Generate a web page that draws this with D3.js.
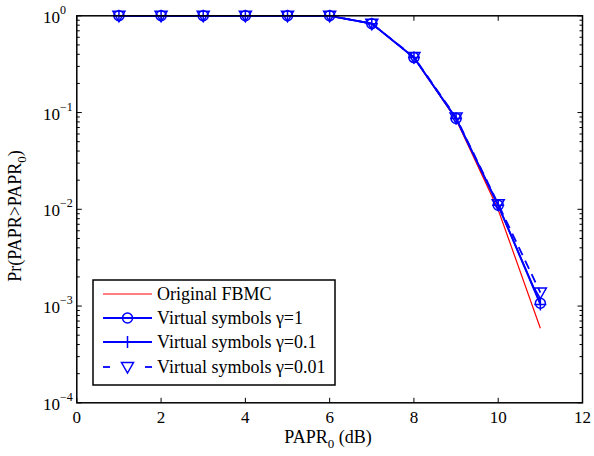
<!DOCTYPE html>
<html><head><meta charset="utf-8">
<script src="https://cdn.jsdelivr.net/npm/d3@7"></script>
<style>body{margin:0;background:#fff}svg{display:block}</style>
</head><body><svg id="c" width="594" height="456"></svg>
<script>
const xs = [1,2,3,4,5,6,7,8,9,10,11];
const original = [1,1,1,1,1,1,0.83,0.37,0.085,0.0099,0.00059];
const gamma1 = [1,1,1,1,1,1,0.83,0.37,0.087,0.0110,0.00107];
const gamma01 = [1,1,1,1,1,1,0.83,0.37,0.087,0.0110,0.00104];
const gamma001 = [1,1,1,1,1,1,0.83,0.375,0.089,0.0113,0.00138];
const xTicks = [0,2,4,6,8,10,12];
const yExps = [0,-1,-2,-3,-4];
const legendLabels = ["Original FBMC","Virtual symbols \u03b3=1","Virtual symbols \u03b3=0.1","Virtual symbols \u03b3=0.01"];

const FONT="Liberation Serif";
const svg = d3.select("#c");
const L=76.8, R=582.5, T=15.8, B=402.8;
const x = d3.scaleLinear().domain([0,12]).range([L,R]);
const y = d3.scaleLog().domain([1e-4,1]).range([B,T]);

const g = svg.append("g");
const minor = [];
for (let e=-4;e<0;e++) for (let m=2;m<=9;m++) minor.push(m*Math.pow(10,e));
minor.forEach(v=>{
  g.append("line").attr("x1",L).attr("x2",L+3).attr("y1",y(v)).attr("y2",y(v)).attr("stroke","#000");
  g.append("line").attr("x1",R).attr("x2",R-3).attr("y1",y(v)).attr("y2",y(v)).attr("stroke","#000");
});
yExps.forEach(e=>{
  const v=Math.pow(10,e);
  g.append("line").attr("x1",L).attr("x2",L+5).attr("y1",y(v)).attr("y2",y(v)).attr("stroke","#000");
  g.append("line").attr("x1",R).attr("x2",R-5).attr("y1",y(v)).attr("y2",y(v)).attr("stroke","#000");
  const t=g.append("text").attr("x",43).attr("y",y(v)+7).attr("font-family",FONT).attr("font-size",17);
  t.append("tspan").text("10");
  t.append("tspan").attr("dy",-9).attr("font-size",12).text(e===0?"0":"\u2212"+(-e));
});
xTicks.forEach(v=>{
  g.append("line").attr("x1",x(v)).attr("x2",x(v)).attr("y1",B).attr("y2",B-5).attr("stroke","#000");
  g.append("line").attr("x1",x(v)).attr("x2",x(v)).attr("y1",T).attr("y2",T+5).attr("stroke","#000");
  g.append("text").attr("x",x(v)).attr("y",B+20).attr("text-anchor","middle").attr("font-family",FONT).attr("font-size",17).text(v);
});

const line = d3.line().x((d,i)=>x(xs[i])).y(d=>y(d));
const blue="#0000ff";
svg.append("path").datum(original).attr("d",line).attr("fill","none").attr("stroke","#ff0000").attr("stroke-width",1.2);
svg.append("path").datum(gamma001).attr("d",line).attr("fill","none").attr("stroke",blue).attr("stroke-width",1.8).attr("stroke-dasharray","9,6");
svg.append("path").datum(gamma01).attr("d",line).attr("fill","none").attr("stroke",blue).attr("stroke-width",1.8);
svg.append("path").datum(gamma1).attr("d",line).attr("fill","none").attr("stroke",blue).attr("stroke-width",1.8);

function circleM(sel,cx,cy){sel.append("circle").attr("cx",cx).attr("cy",cy).attr("r",5).attr("fill","none").attr("stroke",blue).attr("stroke-width",1.5);}
function plusM(sel,cx,cy){sel.append("path").attr("d",`M${cx-6},${cy}H${cx+6}M${cx},${cy-6}V${cy+6}`).attr("stroke",blue).attr("stroke-width",1.5);}
function triM(sel,cx,cy){sel.append("path").attr("d",`M${cx-6},${cy-4.5}H${cx+6}L${cx},${cy+6}Z`).attr("fill","none").attr("stroke",blue).attr("stroke-width",1.5);}
xs.forEach((v,i)=>{
  triM(svg,x(v),y(gamma001[i]));
  plusM(svg,x(v),y(gamma01[i]));
  circleM(svg,x(v),y(gamma1[i]));
});

svg.append("rect").attr("x",L).attr("y",T).attr("width",R-L).attr("height",B-T).attr("fill","none").attr("stroke","#000").attr("stroke-width",1.5);

svg.append("text").attr("x",328).attr("y",443).attr("text-anchor","middle").attr("font-family",FONT).attr("font-size",18)
  .call(t=>{t.append("tspan").text("PAPR");t.append("tspan").attr("dy",5).attr("font-size",13).text("0");t.append("tspan").attr("dy",-5).text(" (dB)");});
svg.append("text").attr("transform","translate(21,216) rotate(-90)").attr("text-anchor","middle").attr("font-family",FONT).attr("font-size",18)
  .call(t=>{t.append("tspan").text("Pr(PAPR>PAPR");t.append("tspan").attr("dy",5).attr("font-size",13).text("0");t.append("tspan").attr("dy",-5).text(")");});

const lg = svg.append("g");
lg.append("rect").attr("x",93).attr("y",280).attr("width",242).attr("height",105).attr("fill","#fff").attr("stroke","#000").attr("stroke-width",1.5);
const ly=[294,318,342,367];
legendLabels.forEach((lab,i)=>{
  const yy=ly[i];
  if(i===3){
    lg.append("line").attr("x1",103).attr("x2",110).attr("y1",yy).attr("y2",yy).attr("stroke",blue).attr("stroke-width",1.8);
    lg.append("line").attr("x1",145).attr("x2",152).attr("y1",yy).attr("y2",yy).attr("stroke",blue).attr("stroke-width",1.8);
  } else {
    lg.append("line").attr("x1",103).attr("x2",152).attr("y1",yy).attr("y2",yy)
      .attr("stroke",i===0?"#ff0000":blue).attr("stroke-width",i===0?1.2:1.8);
  }
  if(i===1) circleM(lg,127.5,yy);
  if(i===2) plusM(lg,127.5,yy);
  if(i===3) triM(lg,127.5,yy);
  lg.append("text").attr("x",157).attr("y",yy+6).attr("font-family",FONT).attr("font-size",18).text(lab);
});
</script></body></html>
